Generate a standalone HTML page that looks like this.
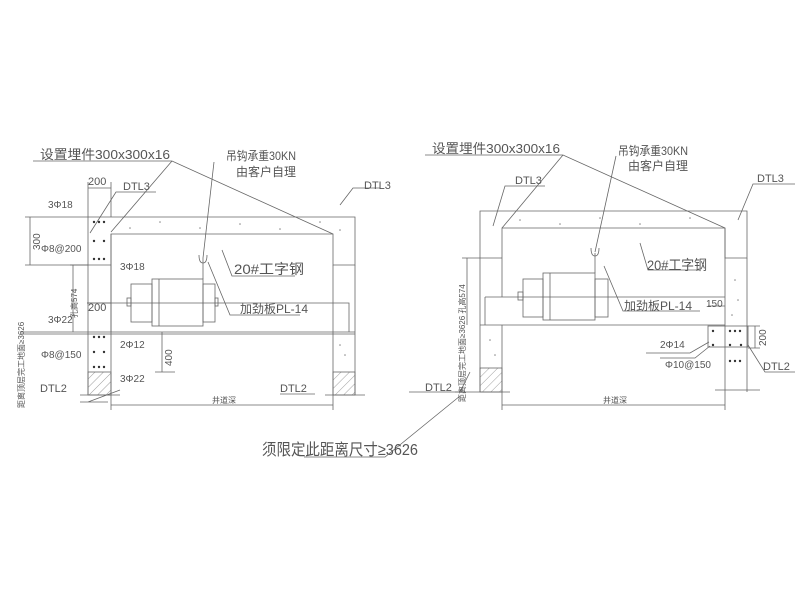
<!DOCTYPE html>
<html><head><meta charset="utf-8"><style>
html,body{margin:0;padding:0;background:#fff;width:800px;height:600px;overflow:hidden}
svg{display:block}
text{font-family:"Liberation Sans","Noto Sans CJK SC",sans-serif;fill:#555}
</style></head><body>
<svg width="800" height="600" viewBox="0 0 800 600" xmlns="http://www.w3.org/2000/svg">
<defs>
<pattern id="h" width="6" height="6" patternUnits="userSpaceOnUse" patternTransform="rotate(45)">
<line x1="0" y1="0" x2="0" y2="6" stroke="#888" stroke-width="0.8"/></pattern>
</defs>
<g stroke="#666" stroke-width="0.8" fill="none">
<!-- LEFT DRAWING -->
<path d="M88 217H355V265H333V234H111V332"/>
<path d="M88 217V395M111 234V332"/>
<path d="M333 265V332M355 265V395M333 332V395"/>
<path d="M88 265H111"/>
<path d="M20 332H355M20 334H355"/>
<path d="M87 303H349V332"/>
<path d="M111 332V395"/>
<rect x="88" y="372" width="23" height="23" fill="url(#h)"/>
<rect x="333" y="372" width="22" height="23" fill="url(#h)"/>
<path d="M80 395H120M325 395H365"/>
<!-- motor -->
<rect x="131" y="284" width="21" height="38"/>
<rect x="152" y="279" width="51" height="47"/>
<path d="M159 279V326"/>
<rect x="203" y="284" width="12" height="38"/>
<rect x="127" y="298" width="4" height="8"/>
<rect x="215" y="298" width="3" height="8"/>
<path d="M203 279V258M199 255q0 8 4 8q4 0 4-8M203 258L214 162"/>
<!-- leaders -->
<path d="M33 161H172L333 234M172 161L111 232"/>
<path d="M90 233L116 192H156"/>
<path d="M340 205L353 188H380"/>
<path d="M222 250L232 276H295"/>
<path d="M208 262L230 315H300"/>
<path d="M80 402H108M120 390L88 402"/>
<path d="M280 394H315"/>
<!-- dims -->
<path d="M88 188H111M88 182V217M111 182V217"/>
<path d="M30 217V265M25 217H88M25 265H88"/>
<path d="M73 265V332M70 265H88"/>
<path d="M87 303H111"/>
<path d="M162 332V372M155 372H175"/>
<path d="M111 405H333M111 395V410M333 395V410"/>
<!-- RIGHT DRAWING -->
<path d="M480 211H747V258H725V228H502V258H480ZM480 258V392M502 258V297"/>
<path d="M725 228V392M747 258V392"/>
<path d="M485 297H725M485 297V325M480 325H725"/>
<path d="M502 325V392"/>
<rect x="708" y="326" width="40" height="21"/>
<rect x="480" y="368" width="22" height="24" fill="url(#h)"/>
<path d="M455 392H510M715 390H760"/>
<rect x="523" y="279" width="20" height="38"/>
<rect x="543" y="273" width="52" height="47"/>
<path d="M550 273V320"/>
<rect x="595" y="279" width="13" height="38"/>
<rect x="518" y="292" width="5" height="8"/>
<path d="M595 273V253M591 248q0 8 4 8q4 0 4-8M595 252L616 156"/>
<path d="M425 155H563L725 228M563 155L502 228"/>
<path d="M493 226L505 186H545"/>
<path d="M738 220L753 184H795"/>
<path d="M640 243L648 270H700"/>
<path d="M604 266L623 311H700"/>
<path d="M709 342L690 353H646M710 346L695 358H660"/>
<path d="M748 345L765 372H795"/>
<path d="M409 392H460L470 372"/>
<path d="M467 258V325M462 258H480"/>
<path d="M502 405H725M502 392V410M725 392V410"/>
<path d="M755 326V348M748 326H760M748 348H760"/>
<path d="M708 306H725"/>
<!-- bottom leader -->
<path d="M304 457H385L460 396"/>
</g>
<!-- concrete dots -->
<g fill="#333">
<circle cx="94" cy="222" r="1.2"/><circle cx="99" cy="222" r="1.2"/><circle cx="104" cy="222" r="1.2"/>
<circle cx="94" cy="241" r="1.2"/><circle cx="104" cy="241" r="1.2"/>
<circle cx="94" cy="259" r="1.2"/><circle cx="99" cy="259" r="1.2"/><circle cx="104" cy="259" r="1.2"/>
<circle cx="94" cy="337" r="1.2"/><circle cx="99" cy="337" r="1.2"/><circle cx="104" cy="337" r="1.2"/>
<circle cx="94" cy="352" r="1.2"/><circle cx="104" cy="352" r="1.2"/>
<circle cx="94" cy="367" r="1.2"/><circle cx="99" cy="367" r="1.2"/><circle cx="104" cy="367" r="1.2"/>
<circle cx="713" cy="331" r="1.2"/><circle cx="730" cy="331" r="1.2"/><circle cx="735" cy="331" r="1.2"/><circle cx="740" cy="331" r="1.2"/>
<circle cx="713" cy="345" r="1.2"/><circle cx="730" cy="345" r="1.2"/><circle cx="741" cy="345" r="1.2"/>
<circle cx="730" cy="361" r="1.2"/><circle cx="735" cy="361" r="1.2"/><circle cx="740" cy="361" r="1.2"/>
</g>
<g fill="#888">
<circle cx="160" cy="222" r="0.8"/><circle cx="200" cy="228" r="0.8"/><circle cx="240" cy="224" r="0.8"/><circle cx="280" cy="229" r="0.8"/><circle cx="320" cy="222" r="0.8"/><circle cx="340" cy="230" r="0.8"/><circle cx="130" cy="228" r="0.8"/>
<circle cx="520" cy="220" r="0.8"/><circle cx="560" cy="224" r="0.8"/><circle cx="600" cy="218" r="0.8"/><circle cx="640" cy="224" r="0.8"/><circle cx="690" cy="218" r="0.8"/><circle cx="735" cy="280" r="0.8"/><circle cx="738" cy="300" r="0.8"/><circle cx="732" cy="315" r="0.8"/><circle cx="490" cy="340" r="0.8"/><circle cx="495" cy="355" r="0.8"/><circle cx="340" cy="345" r="0.8"/><circle cx="345" cy="355" r="0.8"/>
</g>
<!-- text -->
<g font-size="12">
<text x="40" y="159" font-size="13" textLength="130" lengthAdjust="spacingAndGlyphs">设置埋件300x300x16</text>
<text x="226" y="160" textLength="70" lengthAdjust="spacingAndGlyphs">吊钩承重30KN</text>
<text x="236" y="176">由客户自理</text>
<text x="88" y="185" font-size="11">200</text>
<text x="123" y="190" font-size="11">DTL3</text>
<text x="364" y="189" font-size="11">DTL3</text>
<text x="48" y="208" font-size="10">3Φ18</text>
<text x="41" y="252" font-size="10">Φ8@200</text>
<text x="120" y="270" font-size="10">3Φ18</text>
<text x="234" y="274" font-size="14" textLength="70" lengthAdjust="spacingAndGlyphs">20#工字钢</text>
<text x="240" y="313" font-size="12">加劲板PL-14</text>
<text x="48" y="323" font-size="10">3Φ22</text>
<text x="88" y="311" font-size="11">200</text>
<text x="41" y="358" font-size="10">Φ8@150</text>
<text x="120" y="348" font-size="10">2Φ12</text>
<text x="120" y="382" font-size="10">3Φ22</text>
<text x="40" y="392" font-size="11">DTL2</text>
<text x="280" y="392" font-size="11">DTL2</text>
<text x="212" y="403" font-size="8">井道深</text>
<text x="432" y="153" font-size="13" textLength="128" lengthAdjust="spacingAndGlyphs">设置埋件300x300x16</text>
<text x="618" y="155" textLength="70" lengthAdjust="spacingAndGlyphs">吊钩承重30KN</text>
<text x="628" y="170">由客户自理</text>
<text x="515" y="184" font-size="11">DTL3</text>
<text x="757" y="182" font-size="11">DTL3</text>
<text x="647" y="270" font-size="14" textLength="60" lengthAdjust="spacingAndGlyphs">20#工字钢</text>
<text x="624" y="310" font-size="12">加劲板PL-14</text>
<text x="706" y="307" font-size="10">150</text>
<text x="660" y="348" font-size="10">2Φ14</text>
<text x="665" y="368" font-size="10">Φ10@150</text>
<text x="763" y="370" font-size="11">DTL2</text>
<text x="425" y="391" font-size="11">DTL2</text>
<text x="603" y="403" font-size="8">井道深</text>
<text x="262" y="455" font-size="16" textLength="156" lengthAdjust="spacingAndGlyphs">须限定此距离尺寸≥3626</text>
</g>
<g font-size="10">
<text transform="translate(40 250) rotate(-90)">300</text>
<text transform="translate(172 366) rotate(-90)">400</text>
<text transform="translate(766 346) rotate(-90)">200</text>
<text transform="translate(77 318) rotate(-90)" font-size="8">孔高574</text>
<text transform="translate(24 408) rotate(-90)" font-size="8">距离顶层完工地面≥3626</text>
<text transform="translate(465 402) rotate(-90)" font-size="8">距离顶层完工地面≥3626 孔高574</text>
</g>
</svg>
</body></html>
